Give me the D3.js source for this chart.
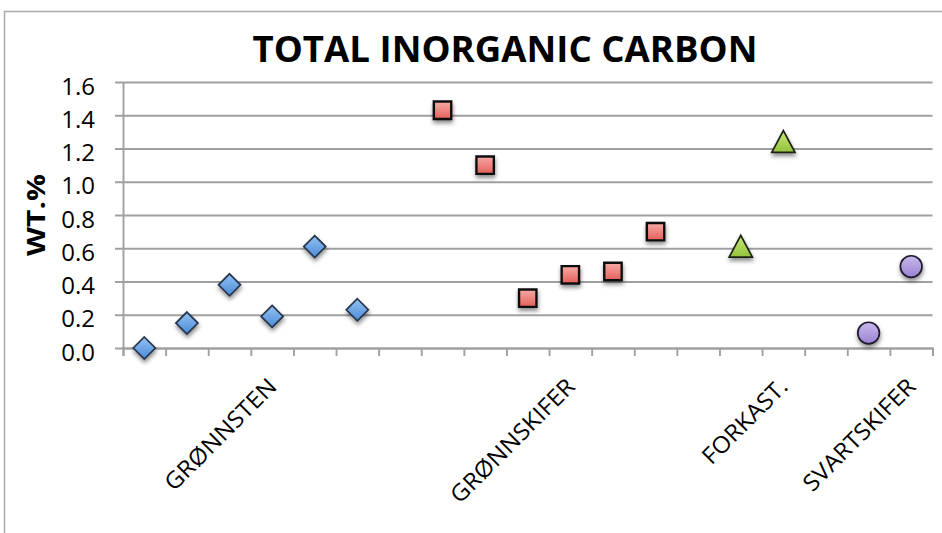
<!DOCTYPE html>
<html>
<head>
<meta charset="utf-8">
<script src="https://cdn.jsdelivr.net/npm/d3@7"></script>
<style>
	body { margin: 0; background: #fff; }
	#chart { width: 942px; height: 533px; }
</style>
</head>
<body>
<div id="chart"></div>
<script>

//**********************************
// data
//**********************************
var categories = ["", "", "", "GRØNNSTEN", "", "", "", "", "", "", "GRØNNSKIFER", "", "", "", "", "FORKAST.", "", "", "SVARTSKIFER"];

var gronnsten   = [0.00, 0.15, 0.38, 0.19, 0.61, 0.23, null, null, null, null, null, null, null, null, null, null, null, null, null];
var gronnskifer = [null, null, null, null, null, null, null, 1.43, 1.10, 0.30, 0.44, 0.46, 0.70, null, null, null, null, null, null];
var forkast     = [null, null, null, null, null, null, null, null, null, null, null, null, null, null, 0.61, 1.24, null, null, null];
var svartskifer = [null, null, null, null, null, null, null, null, null, null, null, null, null, null, null, null, null, 0.09, 0.49];

var yTicks = [0.0, 0.2, 0.4, 0.6, 0.8, 1.0, 1.2, 1.4, 1.6];

var title = "TOTAL INORGANIC CARBON";
var yTitle = "WT.%";

//**********************************
// layout
//**********************************
var width = 942, height = 533;
var padding = { top : 82, bottom : 185, left : 123, right : 9.5 };
var chart = {
	width : width - padding.left - padding.right,
	height : height - padding.top - padding.bottom
};

var svg = d3.select("#chart").append("svg")
	.attr("width", width)
	.attr("height", height)
	.style("display", "block");

var defs = svg.append("defs");

var shadow = defs.append("filter")
	.attr("id", "shadow")
	.attr("x", "-50%").attr("y", "-50%")
	.attr("width", "200%").attr("height", "200%");
shadow.append("feDropShadow")
	.attr("dx", 0.5)
	.attr("dy", 3)
	.attr("stdDeviation", 2)
	.attr("flood-color", "#000")
	.attr("flood-opacity", 0.45);

var addGradient = function(id, top, bottom)
{
	var g = defs.append("linearGradient")
		.attr("id", id)
		.attr("x1", 0).attr("y1", 0)
		.attr("x2", 0).attr("y2", 1);
	g.append("stop").attr("offset", "0%").attr("stop-color", top);
	g.append("stop").attr("offset", "100%").attr("stop-color", bottom);
}

addGradient("grad_blue", "#94c2f2", "#4a8bd8");
addGradient("grad_red", "#f7aaa5", "#e4605a");
addGradient("grad_green", "#c9e77a", "#93c23a");
addGradient("grad_purple", "#c9b9ec", "#9a82d2");

// outer frame
svg.append("rect")
	.attr("x", 4.5)
	.attr("y", 11.5)
	.attr("width", 1000)
	.attr("height", 1000)
	.style("fill", "none")
	.style("stroke", "#a9a9a9")
	.style("stroke-width", 1.5);

var x = d3.scaleBand()
	.domain(d3.range(categories.length))
	.range([padding.left, padding.left + chart.width]);

var xEdge = d3.scaleLinear()
	.domain([0, categories.length])
	.range([padding.left, padding.left + chart.width]);

var y = d3.scaleLinear()
	.domain([0, 1.6])
	.range([padding.top + chart.height, padding.top]);

var stretch = function(sel, k)
{
	sel.each(function(){
		var len = this.getComputedTextLength();
		d3.select(this)
			.attr("textLength", len * k)
			.attr("lengthAdjust", "spacingAndGlyphs");
	});
}

// gridlines
svg.append("g")
	.attr("class", "grid")
	.attr("transform", "translate(" + (padding.left - 8) + ",0)")
	.call(d3.axisRight(y).tickValues(yTicks).tickSize(chart.width + 8).tickFormat(""))
	.call(function(g){ g.select(".domain").remove(); })
	.selectAll("line")
	.style("stroke", "#a0a0a0")
	.style("stroke-width", 1.9);

// y axis
var yAxis = svg.append("g")
	.attr("transform", "translate(" + padding.left + ",0)")
	.call(d3.axisLeft(y).tickValues(yTicks).tickSize(0).tickPadding(28).tickFormat(d3.format(".1f")));
yAxis.select(".domain")
	.style("stroke", "#a0a0a0")
	.style("stroke-width", 1.9);
yAxis.selectAll("text")
	.style("font-family", "Open Sans")
	.style("font-size", "24px")
	.style("fill", "#000")
	.attr("dy", "0.5em");

// x axis
var xAxis = svg.append("g")
	.attr("transform", "translate(0," + (padding.top + chart.height) + ")")
	.call(d3.axisBottom(xEdge).tickValues(d3.range(categories.length + 1)).tickSize(8).tickFormat(""));
xAxis.selectAll("line, path")
	.style("stroke", "#a0a0a0")
	.style("stroke-width", 1.9);

svg.append("g")
	.selectAll("text")
	.data(categories.map(function(d, i){ return { label : d, index : i }; }).filter(function(d){ return d.label != ""; }))
	.enter()
	.append("text")
	.attr("transform", function(d){
		return "translate(" + (x(d.index) + x.bandwidth() / 2 + 6) + "," + (padding.top + chart.height + 40) + ") rotate(-45)";
	})
	.style("text-anchor", "end")
	.style("font-family", "Open Sans")
	.style("font-size", "23px")
	.style("fill", "#000")
	.text(function(d){ return d.label; })
	.call(stretch, 1.06);

// title
svg.append("text")
	.attr("x", 505)
	.attr("y", 62)
	.style("text-anchor", "middle")
	.style("font-family", "Open Sans")
	.style("font-weight", "bold")
	.style("font-size", "36px")
	.attr("textLength", 505)
	.attr("lengthAdjust", "spacingAndGlyphs")
	.text(title);

// y title
svg.append("text")
	.attr("transform", "translate(45," + (padding.top + chart.height / 2) + ") rotate(-90)")
	.style("text-anchor", "middle")
	.style("font-family", "Open Sans")
	.style("font-weight", "bold")
	.style("font-size", "25px")
	.attr("textLength", 82)
	.attr("lengthAdjust", "spacingAndGlyphs")
	.text(yTitle);

//**********************************
// markers
//**********************************
var toPoints = function(values)
{
	var pts = [];
	values.forEach(function(v, i){
		if(v !== null) pts.push({ index : i, value : v });
	});
	return pts;
}

var series = [
	{ values : gronnsten, fill : "url(#grad_blue)", stroke : "#26354a", shape : "diamond" },
	{ values : gronnskifer, fill : "url(#grad_red)", stroke : "#111", shape : "square" },
	{ values : forkast, fill : "url(#grad_green)", stroke : "#1e2412", shape : "triangle" },
	{ values : svartskifer, fill : "url(#grad_purple)", stroke : "#1f1a2c", shape : "circle" }
];

var shapePath = {
	diamond : "M0,-11L11,0L0,11L-11,0Z",
	square : "M-8.7,-8.7L8.7,-8.7L8.7,8.7L-8.7,8.7Z",
	triangle : "M0,-11.2L11.6,10.6L-11.6,10.6Z",
	circle : d3.symbol().type(d3.symbolCircle).size(Math.PI * 10.8 * 10.8)()
};

var markers = svg.append("g").attr("class", "markers");

series.forEach(function(s){
	markers.append("g")
		.selectAll("path")
		.data(toPoints(s.values))
		.enter()
		.append("path")
		.attr("transform", function(d){
			return "translate(" + (x(d.index) + x.bandwidth() / 2) + "," + y(d.value) + ")";
		})
		.attr("d", shapePath[s.shape])
		.style("fill", s.fill)
		.style("stroke", s.stroke)
		.style("stroke-width", s.shape == "square" ? 2.4 : 1.7)
		.style("stroke-linejoin", "miter")
		.attr("filter", "url(#shadow)");
});

</script>
</body>
</html>
